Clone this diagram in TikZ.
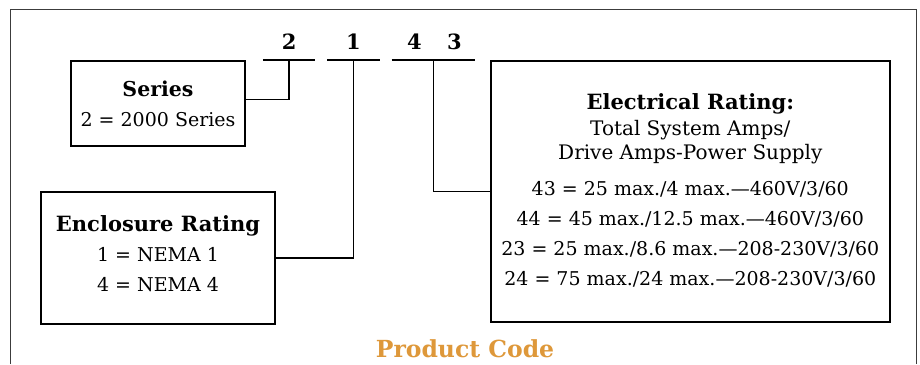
\documentclass[tikz,border=0pt]{standalone}
\usepackage{fontspec}
\setmainfont{DejaVu Serif}
\usepackage{tikz}
\usetikzlibrary{positioning}
\definecolor{CodeOrange}{RGB}{222,152,58}
\definecolor{FrameGray}{RGB}{60,60,60}

\begin{document}
\begin{tikzpicture}[x=1pt,y=1pt,node distance=10pt,every node/.style={font=\fontsize{19}{30}\selectfont}]
\tikzset{box/.style={draw,line width=1.8pt,align=center,inner sep=0pt},slot/.style={minimum width=52pt,minimum height=0pt,inner sep=0pt},digit/.style={inner sep=0pt,font=\fontsize{21}{21}\selectfont\bfseries},link/.style={line width=1.5pt}}
\useasboundingbox (0,0) rectangle (920,364);
\draw[FrameGray,line width=1pt] (10,0)--(10,354)--(916,354)--(916,0);
\node[box,minimum width=174pt,minimum height=85pt] (series) at (158,260.5) {{\fontsize{20.5}{20.5}\selectfont\bfseries Series}\\2 = 2000 Series};
\node[box,minimum width=234pt,minimum height=132pt,text depth=9pt,below=44pt of series] (encl) {{\fontsize{21}{21}\selectfont\bfseries Enclosure Rating}\\1 = NEMA 1\\4 = NEMA 4};
\node[box,minimum width=399pt,minimum height=261pt,text depth=4pt,right=244pt of series.north east,anchor=north west] (elec) {{\fontsize{21}{21}\selectfont\bfseries Electrical Rating:}\\[-4pt]{\fontsize{20}{20}\selectfont Total System Amps/}\\[-6pt]{\fontsize{20}{20}\selectfont Drive Amps-Power Supply}\\[6pt]43 = 25 max./4 max.—460V/3/60\\44 = 45 max./12.5 max.—460V/3/60\\23 = 25 max./8.6 max.—208-230V/3/60\\24 = 75 max./24 max.—208-230V/3/60};
\node[slot,right=17pt of series.north east] (s2) {};
\node[slot,right=12pt of s2] (s1) {};
\node[slot,minimum width=83pt,right=12pt of s1] (s43) {};
\foreach \s in {s2,s1,s43} \draw[link] (\s.west)--(\s.east);
\node[digit,above=10pt of s2] (d2) {2};
\node[digit,above=10pt of s1] (d1) {1};
\node[digit,above=10pt of s43,xshift=-19pt] (d4) {4};
\node[digit,above=10pt of s43,xshift=21pt] (d3) {3};
\draw[link] ([yshift=4pt]series.east) -| (s2.center);
\draw[link] (s1.center) |- (encl.east);
\draw[link] (s43.center) |- (elec.west);
\node[font=\fontsize{23.5}{23.5}\selectfont\bfseries,text=CodeOrange] (code) at (465,15) {Product Code};
\end{tikzpicture}
\end{document}
